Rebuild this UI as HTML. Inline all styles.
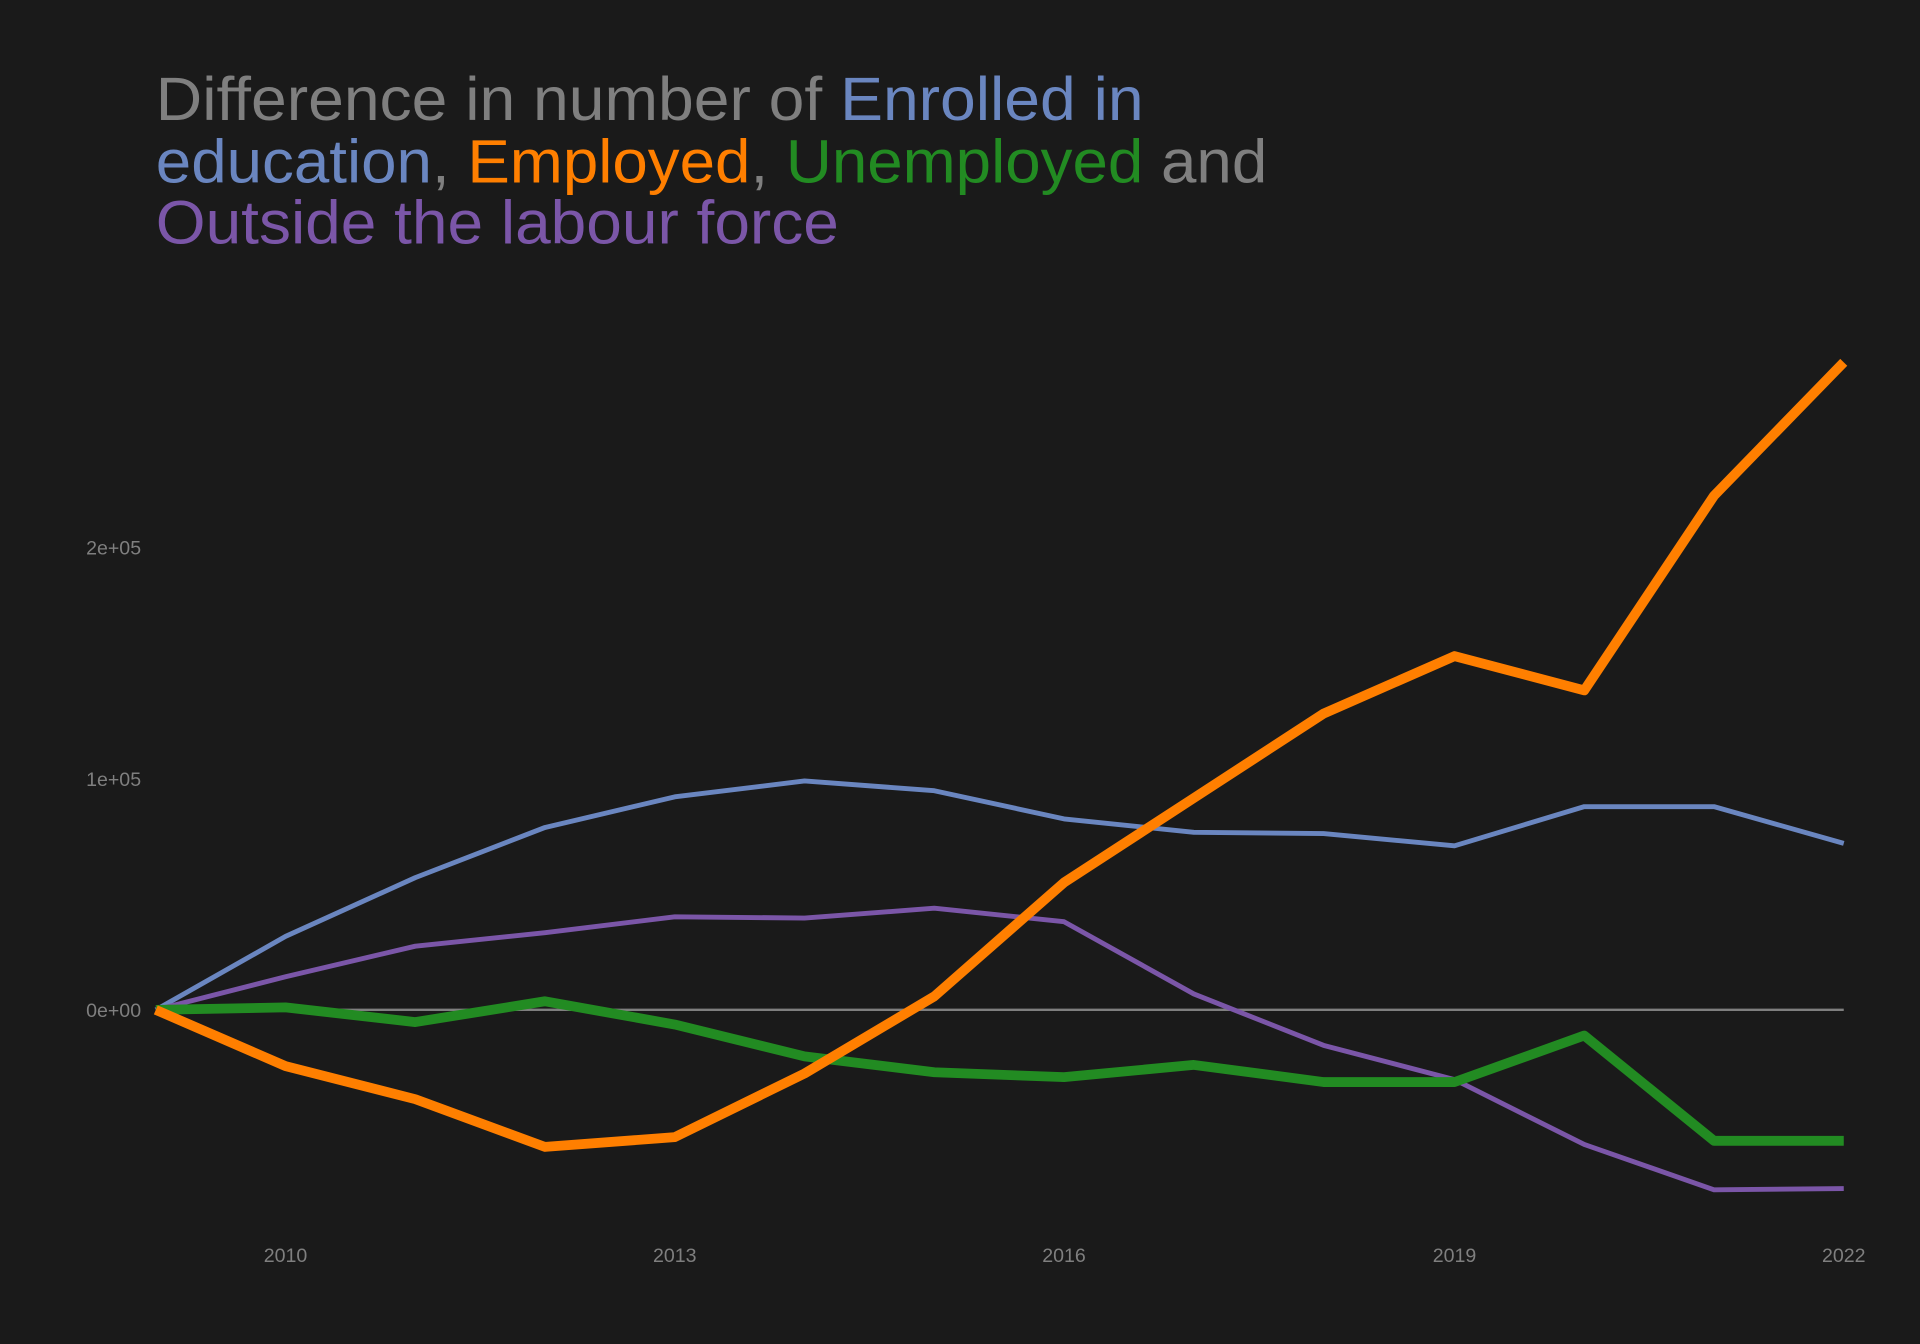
<!DOCTYPE html>
<html><head><style>html,body{margin:0;padding:0;background:#1a1a1a;}svg{display:block}</style></head>
<body>
<svg width="1920" height="1344" viewBox="0 0 1568 1098" xmlns="http://www.w3.org/2000/svg" font-family="Liberation Sans, sans-serif">
<rect width="1568" height="1098" fill="#1a1a1a"/>
<g font-size="50">
<text x="127" y="98" textLength="807" lengthAdjust="spacingAndGlyphs"><tspan fill="#7f7f7f">Difference in number of </tspan><tspan fill="#6a86c0">Enrolled in</tspan></text>
<text x="127" y="149" textLength="908" lengthAdjust="spacingAndGlyphs"><tspan fill="#6a86c0">education</tspan><tspan fill="#7f7f7f">, </tspan><tspan fill="#ff7f00">Employed</tspan><tspan fill="#7f7f7f">, </tspan><tspan fill="#228b22">Unemployed</tspan><tspan fill="#7f7f7f"> and</tspan></text>
<text x="127" y="199" textLength="558" lengthAdjust="spacingAndGlyphs" fill="#7b56a8">Outside the labour force</text>
</g>
<g font-size="16" fill="#7f7f7f">
<text x="115" y="453" text-anchor="end">2e+05</text>
<text x="115" y="642" text-anchor="end">1e+05</text>
<text x="115" y="831" text-anchor="end">0e+00</text>
<text x="233" y="1031" text-anchor="middle">2010</text>
<text x="551" y="1031" text-anchor="middle">2013</text>
<text x="869" y="1031" text-anchor="middle">2016</text>
<text x="1188" y="1031" text-anchor="middle">2019</text>
<text x="1506" y="1031" text-anchor="middle">2022</text>
</g>
<line x1="127" y1="825" x2="1506" y2="825" stroke="#7f7f7f" stroke-width="2"/>
<g fill="none" stroke-linejoin="round" stroke-linecap="butt">
<polyline stroke="#6a86c0" stroke-width="4" points="127,825 233,765 339,717 445,676 551,651 657,638 763,646 869,669 975,680 1081,681 1188,691 1294,659 1400,659 1506,689"/>
<polyline stroke="#7b56a8" stroke-width="4" points="127,825 233,798 339,773 445,762 551,749 657,750 763,742 869,753 975,812 1081,854 1188,882 1294,935 1400,972 1506,971"/>
<polyline stroke="#228b22" stroke-width="8" points="127,825 233,823 339,835 445,818 551,837 657,863 763,876 869,880 975,870 1081,884 1188,884 1294,846 1400,932 1506,932"/>
<polyline stroke="#ff7f00" stroke-width="8" points="127,825 233,871 339,898 445,937 551,929 657,877 763,814 869,721 975,652 1081,583 1188,536 1294,564 1400,405 1506,296"/>
</g>
</svg>
</body></html>
